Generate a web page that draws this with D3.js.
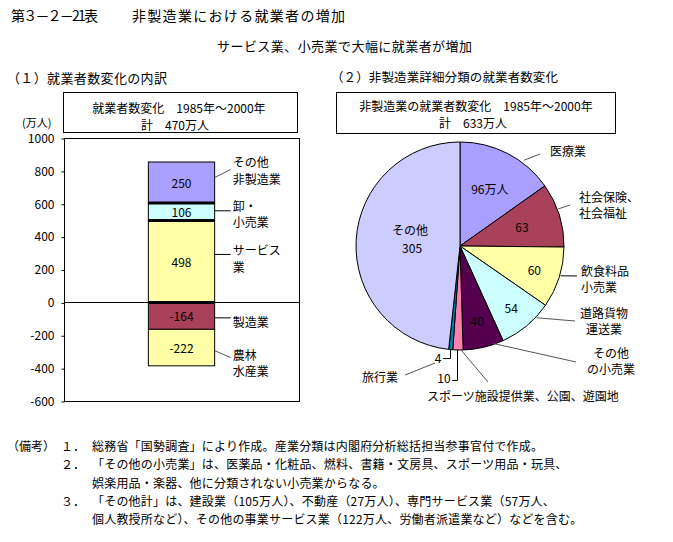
<!DOCTYPE html>
<html>
<head>
<meta charset="utf-8">
<script src="https://cdn.jsdelivr.net/npm/d3@7"></script>
<style>
body { margin: 0; background: #fff; }
text { font-family: "Noto Sans CJK JP", sans-serif; font-size: 12px; fill: #000; }
</style>
</head>
<body>
<svg width="673" height="542"></svg>
<script>
// ---- data ----
var barNames = [["サービス", "業"], ["卸・", "小売業"], ["その他", "非製造業"], ["製造業"], ["農林", "水産業"]];
var barValues = [498, 106, 250, -164, -222];
var barColors = ["#ffffa8", "#ccffff", "#a99fff", "#a8405a", "#ffffa8"];
var yTicks = [-600, -400, -200, 0, 200, 400, 600, 800, 1000];

var pieNames = [["医療業"], ["社会保険、", "社会福祉"], ["飲食料品", "小売業"], ["道路貨物", "運送業"],
                ["その他", "の小売業"], ["スポーツ施設提供業、公園、遊園地"], ["旅行業"], ["その他"]];
var pieValues = [96, 63, 60, 54, 40, 10, 4, 305];
var pieValueLabels = ["96万人", "63", "60", "54", "40", "10", "4", "305"];
var pieColors = ["#a99fff", "#a8405a", "#ffffa8", "#ccffff", "#55004f", "#ff80b0", "#0080a0", "#ccccff"];

var noteNums = ["１．", "２．", "", "３．", ""];
var noteLines = [
  "総務省「国勢調査」により作成。産業分類は内閣府分析総括担当参事官付で作成。",
  "「その他の小売業」は、医薬品・化粧品、燃料、書籍・文房具、スポーツ用品・玩具、",
  "娯楽用品・楽器、他に分類されない小売業からなる。",
  "「その他計」は、建設業（105万人）、不動産（27万人）、専門サービス業（57万人、",
  "個人教授所など）、その他の事業サービス業（122万人、労働者派遣業など）などを含む。"
];

var svg = d3.select("svg");
svg.append("rect").attr("width", 673).attr("height", 542).attr("fill", "#fff");

// ---- titles ----
svg.append("text").attr("x", 11).attr("y", 15).attr("dominant-baseline", "central")
  .style("font-size", "14px").attr("textLength", 87).text("第３－２－21表");
svg.append("text").attr("x", 132).attr("y", 15).attr("dominant-baseline", "central")
  .style("font-size", "14px").attr("textLength", 213).text("非製造業における就業者の増加");
svg.append("text").attr("x", 217).attr("y", 45).attr("dominant-baseline", "central")
  .style("font-size", "13px").attr("textLength", 255).text("サービス業、小売業で大幅に就業者が増加");
svg.append("text").attr("x", 7).attr("y", 77).attr("dominant-baseline", "central")
  .style("font-size", "13px").attr("textLength", 160).text("（１）就業者数変化の内訳");
svg.append("text").attr("x", 331).attr("y", 76).attr("dominant-baseline", "central")
  .style("font-size", "12.5px").attr("textLength", 227).text("（２）非製造業詳細分類の就業者数変化");

// ---- (1) stacked bar ----
var frame = {left: 64, right: 299, top: 138, bottom: 401};

var y = d3.scaleLinear().domain([-600, 1000]).range([frame.bottom, frame.top]);
var x = d3.scaleBand().domain(["計"]).range([frame.left, frame.right]).padding(0.56);

// box above the plot
svg.append("rect").attr("x", 63.5).attr("y", 92.5).attr("width", 234).attr("height", 40)
  .attr("fill", "none").attr("stroke", "#000");
svg.append("text").attr("x", 179).attr("y", 107).attr("text-anchor", "middle").attr("dominant-baseline", "central")
  .text("就業者数変化　1985年～2000年");
svg.append("text").attr("x", 175).attr("y", 124).attr("text-anchor", "middle").attr("dominant-baseline", "central")
  .text("計　470万人");
svg.append("text").attr("x", 22).attr("y", 122).attr("dominant-baseline", "central")
  .style("font-size", "11px").text("(万人)");

svg.append("rect").attr("x", frame.left + 0.5).attr("y", frame.top + 0.5)
  .attr("width", frame.right - frame.left).attr("height", frame.bottom - frame.top)
  .attr("fill", "#fff").attr("stroke", "#000");

var yAxis = svg.append("g")
  .attr("transform", "translate(" + (frame.left + 0.5) + ",0.5)")
  .call(d3.axisLeft(y).tickValues(yTicks).tickSize(3).tickPadding(7).tickFormat(function (d) { return String(d); }));
yAxis.select(".domain").remove();
yAxis.selectAll("text").style("font-size", "12px").style("font-family", "\"Noto Sans CJK JP\", sans-serif");

svg.append("line").attr("x1", frame.left).attr("x2", frame.right)
  .attr("y1", Math.round(y(0)) + 0.5).attr("y2", Math.round(y(0)) + 0.5).attr("stroke", "#000");

// stack positives up, negatives down
var posSum = 0, negSum = 0;
var segs = barValues.map(function (v, i) {
  var s = {i: i, v: v};
  if (v >= 0) { s.y0 = posSum; s.y1 = posSum + v; posSum += v; }
  else { s.y0 = negSum; s.y1 = negSum + v; negSum += v; }
  s.mid = y((s.y0 + s.y1) / 2);
  return s;
});

var bx = x("計"), bw = x.bandwidth();
svg.selectAll(".seg").data(segs).enter().append("rect")
  .attr("class", "seg")
  .attr("x", bx).attr("width", bw)
  .attr("y", function (d) { return y(Math.max(d.y0, d.y1)); })
  .attr("height", function (d) { return Math.abs(y(d.y0) - y(d.y1)); })
  .attr("fill", function (d) { return barColors[d.i]; })
  .attr("stroke", "#000").attr("stroke-width", 1);

// thick separators at the bottom of the positive segments
svg.selectAll(".sep").data(segs.filter(function (d) { return d.v > 0; })).enter().append("line")
  .attr("x1", bx).attr("x2", bx + bw)
  .attr("y1", function (d) { return y(d.y0); }).attr("y2", function (d) { return y(d.y0); })
  .attr("stroke", "#000").attr("stroke-width", 3);

svg.selectAll(".segval").data(segs).enter().append("text")
  .attr("x", bx + bw / 2).attr("y", function (d) { return d.mid; })
  .attr("text-anchor", "middle").attr("dominant-baseline", "central")
  .text(function (d) { return d.v; });

// label offsets from segment middle: leader start a, leader end b, first text line c, line height lh
var barLabelLayout = [
  {a: -7, b: -7, c: -12, lh: 17},
  {a: -1, b: -1, c: -6, lh: 16},
  {a: -5, b: -13, c: -21, lh: 17},
  {a: 2, b: 2, c: 6, lh: 16},
  {a: 3, b: 10, c: 7, lh: 16}
];
segs.forEach(function (d) {
  var L = barLabelLayout[d.i];
  svg.append("line")
    .attr("x1", bx + bw).attr("y1", d.mid + L.a)
    .attr("x2", bx + bw + 16).attr("y2", d.mid + L.b)
    .attr("stroke", L.a === L.b ? "#000" : "#555");
  barNames[d.i].forEach(function (t, k) {
    svg.append("text").attr("x", bx + bw + 18).attr("y", d.mid + L.c + k * L.lh)
      .attr("dominant-baseline", "central").text(t);
  });
});

// ---- (2) pie ----
svg.append("rect").attr("x", 336.5).attr("y", 92.5).attr("width", 279).attr("height", 41)
  .attr("fill", "none").attr("stroke", "#000");
svg.append("text").attr("x", 476).attr("y", 105).attr("text-anchor", "middle").attr("dominant-baseline", "central")
  .text("非製造業の就業者数変化　1985年～2000年");
svg.append("text").attr("x", 473).attr("y", 122).attr("text-anchor", "middle").attr("dominant-baseline", "central")
  .text("計　633万人");

var cx = 460, cy = 246, R = 104;
var pie = d3.pie().sort(null).value(function (d) { return d; });
var arcs = pie(pieValues);
var arc = d3.arc().innerRadius(0).outerRadius(R);

var pg = svg.append("g").attr("transform", "translate(" + cx + "," + cy + ")");
pg.selectAll("path").data(arcs).enter().append("path")
  .attr("d", arc)
  .attr("fill", function (d, i) { return pieColors[i]; })
  .attr("stroke", "#000").attr("stroke-width", 1).attr("stroke-linejoin", "round");

function polar(deg, r) {
  var a = deg * Math.PI / 180;
  return [cx + r * Math.sin(a), cy - r * Math.cos(a)];
}
function midDeg(d) { return (d.startAngle + d.endAngle) / 2 * 180 / Math.PI; }

// value labels inside slices (radius of label per slice)
var valueRadius = [65, 65, 78, 80, 76, null, null, 50];
arcs.forEach(function (d, i) {
  if (valueRadius[i] === null) return;
  var p = polar(midDeg(d), valueRadius[i]);
  if (i === 7) {
    svg.append("text").attr("x", p[0]).attr("y", p[1] - 14).attr("text-anchor", "middle")
      .attr("dominant-baseline", "central").text(pieNames[i][0]);
    svg.append("text").attr("x", p[0] + 2).attr("y", p[1] + 4).attr("text-anchor", "middle")
      .attr("dominant-baseline", "central").text(pieValueLabels[i]);
  } else {
    svg.append("text").attr("x", p[0]).attr("y", p[1]).attr("text-anchor", "middle")
      .attr("dominant-baseline", "central").text(pieValueLabels[i]);
  }
});

// small slices: value labels outside with elbow leaders
var smallValueLayout = {
  5: {x: 444, y: 377, pts: [[452, 380.5], [457.5, 380.5]], off: 1.4},
  6: {x: 438, y: 357, pts: [[443, 358.5], [450.5, 358.5]], off: 0.4}
};
Object.keys(smallValueLayout).forEach(function (k) {
  var L = smallValueLayout[k], d = arcs[k];
  var end = polar(midDeg(d) + L.off, R);
  var pts = L.pts.concat([[L.pts[L.pts.length - 1][0], end[1]]]);
  svg.append("path").attr("d", d3.line()(pts)).attr("fill", "none").attr("stroke", "#000");
  svg.append("text").attr("x", L.x).attr("y", L.y).attr("text-anchor", "middle")
    .attr("dominant-baseline", "central").text(pieValueLabels[k]);
});

// name labels: leader starts on the rim at mid angle + off, ends at (ex, ey)
var pieNameLayout = [
  {x: 550, y: 150, lh: 15, anchor: "start", off: 9.4, r: 107, ex: 540, ey: 154},
  {x: 579, y: 196, lh: 16, anchor: "start", off: -3.3, r: 105, ex: 570, ey: 205},
  {x: 581, y: 270, lh: 16, anchor: "start", off: -1.2, r: 105, ex: 577, ey: 276, black: true},
  {x: 604, y: 312, lh: 16, anchor: "middle", off: -7, r: 105, ex: 575, ey: 321},
  {x: 611, y: 352, lh: 16, anchor: "middle", off: -5.7, r: 103, ex: 576, ey: 362},
  {x: 427, y: 395, lh: 15, anchor: "start", off: -1.7, r: 104, ex: 488, ey: 382},
  {x: 362, y: 376, lh: 15, anchor: "start", sx: 405, sy: 375, ex: 435, ey: 363}
];
pieNameLayout.forEach(function (L, i) {
  var s = L.sx !== undefined ? [L.sx, L.sy] : polar(midDeg(arcs[i]) + L.off, L.r);
  svg.append("line").attr("x1", s[0]).attr("y1", s[1]).attr("x2", L.ex).attr("y2", L.ey)
    .attr("stroke", L.black ? "#000" : "#555");
  pieNames[i].forEach(function (t, k) {
    svg.append("text").attr("x", L.x).attr("y", L.y + k * L.lh).attr("text-anchor", L.anchor)
      .attr("dominant-baseline", "central").text(t);
  });
});

// ---- notes ----
var noteY = [445, 463, 482, 500, 518];
svg.append("text").attr("x", 7).attr("y", noteY[0]).attr("dominant-baseline", "central").text("（備考）");
noteLines.forEach(function (t, i) {
  if (noteNums[i]) {
    svg.append("text").attr("x", 61).attr("y", noteY[i]).attr("dominant-baseline", "central").text(noteNums[i]);
  }
  svg.append("text").attr("x", 92).attr("y", noteY[i]).attr("dominant-baseline", "central")
    .style("letter-spacing", "0.2px").text(t);
});
</script>
</body>
</html>
